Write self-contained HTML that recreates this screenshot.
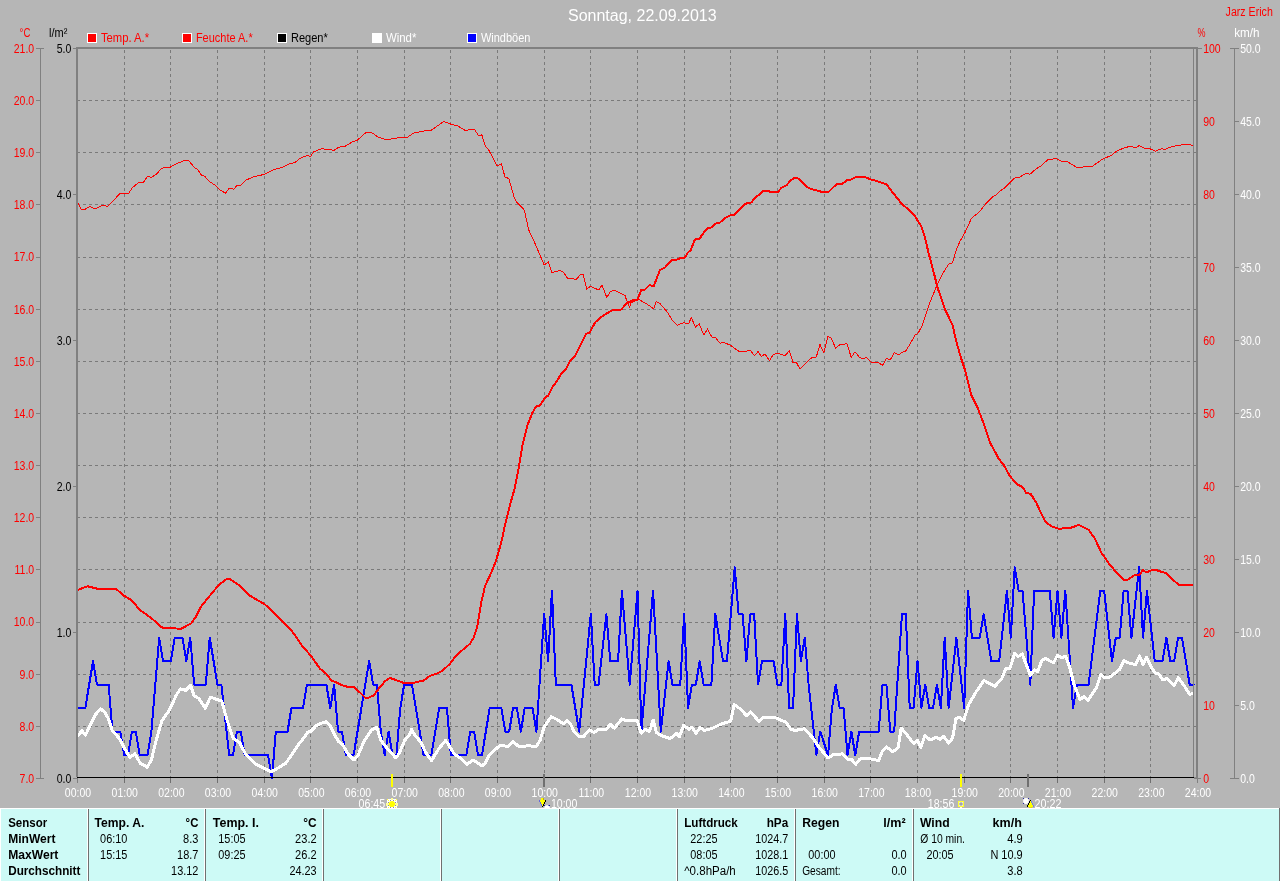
<!DOCTYPE html>
<html><head><meta charset="utf-8"><title>Sonntag, 22.09.2013</title>
<style>html,body{margin:0;padding:0;background:#b6b6b6;}svg{display:block;will-change:transform;}</style></head>
<body>
<svg width="1280" height="881" viewBox="0 0 1280 881">
<rect width="1280" height="881" fill="#b6b6b6"/>
<g stroke="#7a7a7a" stroke-width="1" stroke-dasharray="3 3" shape-rendering="crispEdges" fill="none">
<line x1="124.5" y1="50" x2="124.5" y2="777"/>
<line x1="170.5" y1="50" x2="170.5" y2="777"/>
<line x1="217.5" y1="50" x2="217.5" y2="777"/>
<line x1="264.5" y1="50" x2="264.5" y2="777"/>
<line x1="310.5" y1="50" x2="310.5" y2="777"/>
<line x1="357.5" y1="50" x2="357.5" y2="777"/>
<line x1="404.5" y1="50" x2="404.5" y2="777"/>
<line x1="450.5" y1="50" x2="450.5" y2="777"/>
<line x1="497.5" y1="50" x2="497.5" y2="777"/>
<line x1="544.5" y1="50" x2="544.5" y2="777"/>
<line x1="590.5" y1="50" x2="590.5" y2="777"/>
<line x1="637.5" y1="50" x2="637.5" y2="777"/>
<line x1="684.5" y1="50" x2="684.5" y2="777"/>
<line x1="730.5" y1="50" x2="730.5" y2="777"/>
<line x1="777.5" y1="50" x2="777.5" y2="777"/>
<line x1="824.5" y1="50" x2="824.5" y2="777"/>
<line x1="870.5" y1="50" x2="870.5" y2="777"/>
<line x1="917.5" y1="50" x2="917.5" y2="777"/>
<line x1="964.5" y1="50" x2="964.5" y2="777"/>
<line x1="1010.5" y1="50" x2="1010.5" y2="777"/>
<line x1="1057.5" y1="50" x2="1057.5" y2="777"/>
<line x1="1104.5" y1="50" x2="1104.5" y2="777"/>
<line x1="1150.5" y1="50" x2="1150.5" y2="777"/>
<line x1="77" y1="100.5" x2="1196" y2="100.5"/>
<line x1="77" y1="152.5" x2="1196" y2="152.5"/>
<line x1="77" y1="204.5" x2="1196" y2="204.5"/>
<line x1="77" y1="257.5" x2="1196" y2="257.5"/>
<line x1="77" y1="309.5" x2="1196" y2="309.5"/>
<line x1="77" y1="361.5" x2="1196" y2="361.5"/>
<line x1="77" y1="413.5" x2="1196" y2="413.5"/>
<line x1="77" y1="465.5" x2="1196" y2="465.5"/>
<line x1="77" y1="517.5" x2="1196" y2="517.5"/>
<line x1="77" y1="569.5" x2="1196" y2="569.5"/>
<line x1="77" y1="622.5" x2="1196" y2="622.5"/>
<line x1="77" y1="674.5" x2="1196" y2="674.5"/>
<line x1="77" y1="726.5" x2="1196" y2="726.5"/>
</g>
<g stroke="#707070" stroke-width="1" shape-rendering="crispEdges">
<line x1="124.5" y1="778" x2="124.5" y2="783"/>
<line x1="170.5" y1="778" x2="170.5" y2="783"/>
<line x1="217.5" y1="778" x2="217.5" y2="783"/>
<line x1="264.5" y1="778" x2="264.5" y2="783"/>
<line x1="310.5" y1="778" x2="310.5" y2="783"/>
<line x1="357.5" y1="778" x2="357.5" y2="783"/>
<line x1="404.5" y1="778" x2="404.5" y2="783"/>
<line x1="450.5" y1="778" x2="450.5" y2="783"/>
<line x1="497.5" y1="778" x2="497.5" y2="783"/>
<line x1="544.5" y1="778" x2="544.5" y2="783"/>
<line x1="590.5" y1="778" x2="590.5" y2="783"/>
<line x1="637.5" y1="778" x2="637.5" y2="783"/>
<line x1="684.5" y1="778" x2="684.5" y2="783"/>
<line x1="730.5" y1="778" x2="730.5" y2="783"/>
<line x1="777.5" y1="778" x2="777.5" y2="783"/>
<line x1="824.5" y1="778" x2="824.5" y2="783"/>
<line x1="870.5" y1="778" x2="870.5" y2="783"/>
<line x1="917.5" y1="778" x2="917.5" y2="783"/>
<line x1="964.5" y1="778" x2="964.5" y2="783"/>
<line x1="1010.5" y1="778" x2="1010.5" y2="783"/>
<line x1="1057.5" y1="778" x2="1057.5" y2="783"/>
<line x1="1104.5" y1="778" x2="1104.5" y2="783"/>
<line x1="1150.5" y1="778" x2="1150.5" y2="783"/>
</g>
<g fill="none" stroke-linejoin="round" stroke-linecap="butt" shape-rendering="crispEdges">
<path d="M77.50,708.13 L81.39,708.13 L85.28,708.13 L89.17,684.64 L93.06,661.15 L96.94,684.64 L100.83,684.64 L104.72,684.64 L108.61,684.64 L112.50,731.62 L116.39,731.62 L120.28,731.62 L124.17,755.11 L128.06,755.11 L131.94,731.62 L135.83,731.62 L139.72,755.11 L143.61,755.11 L147.50,755.11 L151.39,731.62 L155.28,684.64 L159.17,637.66 L163.06,661.15 L166.94,661.15 L170.83,661.15 L174.72,637.66 L178.61,637.66 L182.50,637.66 L186.39,661.15 L190.28,637.66 L194.17,684.64 L198.06,684.64 L201.94,684.64 L205.83,684.64 L209.72,637.66 L213.61,661.15 L217.50,684.64 L221.39,684.64 L225.28,719.88 L229.17,755.11 L233.06,755.11 L236.94,731.62 L240.83,731.62 L244.72,755.11 L248.61,755.11 L252.50,755.11 L256.39,755.11 L260.28,755.11 L264.17,755.11 L268.06,755.11 L271.94,778.60 L275.83,731.62 L279.72,731.62 L283.61,731.62 L287.50,731.62 L291.39,708.13 L295.28,708.13 L299.17,708.13 L303.06,708.13 L306.94,684.64 L310.83,684.64 L314.72,684.64 L318.61,684.64 L322.50,684.64 L326.39,684.64 L330.28,708.13 L334.17,684.64 L338.06,731.62 L341.94,731.62 L345.83,755.11 L349.72,755.11 L353.61,755.11 L357.50,731.62 L361.39,708.13 L365.28,684.64 L369.17,661.15 L373.06,684.64 L376.94,684.64 L380.83,731.62 L384.72,755.11 L388.61,731.62 L392.50,755.11 L396.39,755.11 L400.28,708.13 L404.17,684.64 L408.06,684.64 L411.94,684.64 L415.83,708.13 L419.72,731.62 L423.61,755.11 L427.50,755.11 L431.39,755.11 L435.28,731.62 L439.17,708.13 L443.06,708.13 L446.94,708.13 L450.83,755.11 L454.72,755.11 L458.61,755.11 L462.50,755.11 L466.39,755.11 L470.28,731.62 L474.17,731.62 L478.06,755.11 L481.94,755.11 L485.83,731.62 L489.72,708.13 L493.61,708.13 L497.50,708.13 L501.39,708.13 L505.28,731.62 L509.17,731.62 L513.06,708.13 L516.94,708.13 L520.83,731.62 L524.72,708.13 L528.61,708.13 L532.50,708.13 L536.39,731.62 L540.28,672.89 L544.17,614.17 L548.06,661.15 L551.94,590.68 L555.83,684.64 L559.72,684.64 L563.61,684.64 L567.50,684.64 L571.39,684.64 L575.28,708.13 L579.17,731.62 L583.06,692.39 L586.94,653.40 L590.83,614.17 L594.72,684.64 L598.61,684.64 L602.50,649.40 L606.39,614.17 L610.28,661.15 L614.17,661.15 L618.06,661.15 L621.94,590.68 L625.83,637.66 L629.72,684.64 L633.61,637.66 L637.50,590.68 L641.39,731.62 L645.28,684.64 L649.17,637.66 L653.06,590.68 L656.94,661.15 L660.83,731.62 L664.72,696.38 L668.61,661.15 L672.50,684.64 L676.39,684.64 L680.28,684.64 L684.17,614.17 L688.06,708.13 L691.94,684.64 L695.83,684.64 L699.72,661.15 L703.61,684.64 L707.50,684.64 L711.39,684.64 L715.28,614.17 L719.17,637.66 L723.06,661.15 L726.94,661.15 L730.83,614.17 L734.72,567.19 L738.61,614.17 L742.50,614.17 L746.39,661.15 L750.28,614.17 L754.17,614.17 L758.06,684.64 L761.94,661.15 L765.83,661.15 L769.72,661.15 L773.61,661.15 L777.50,684.64 L781.39,684.64 L785.28,614.17 L789.17,708.13 L793.06,708.13 L796.94,614.17 L800.83,661.15 L804.72,637.66 L808.61,684.64 L812.50,719.88 L816.39,755.11 L820.28,731.62 L824.17,743.37 L828.06,755.11 L831.94,708.13 L835.83,684.64 L839.72,708.13 L843.61,708.13 L847.50,755.11 L851.39,731.62 L855.28,755.11 L859.17,731.62 L863.06,731.62 L866.94,731.62 L870.83,731.62 L874.72,731.62 L878.61,731.62 L882.50,684.64 L886.39,684.64 L890.28,731.62 L894.17,731.62 L898.06,672.89 L901.94,614.17 L905.83,614.17 L909.72,708.13 L913.61,708.13 L917.50,661.15 L921.39,708.13 L925.28,684.64 L929.17,708.13 L933.06,708.13 L936.94,684.64 L940.83,708.13 L944.72,637.66 L948.61,708.13 L952.50,672.89 L956.39,637.66 L960.28,672.89 L964.17,708.13 L968.06,590.68 L971.94,637.66 L975.83,637.66 L979.72,637.66 L983.61,614.17 L987.50,637.66 L991.39,661.15 L995.28,661.15 L999.17,661.15 L1003.06,625.91 L1006.94,590.68 L1010.83,637.66 L1014.72,567.19 L1018.61,590.68 L1022.50,590.68 L1026.39,637.66 L1030.28,684.64 L1034.17,590.68 L1038.06,590.68 L1041.94,590.68 L1045.83,590.68 L1049.72,590.68 L1053.61,637.66 L1057.50,590.68 L1061.39,637.66 L1065.28,590.68 L1069.17,649.40 L1073.06,708.13 L1076.94,684.64 L1080.83,684.64 L1084.72,684.64 L1088.61,684.64 L1092.50,653.40 L1096.39,621.92 L1100.28,590.68 L1104.17,590.68 L1108.06,625.91 L1111.94,661.15 L1115.83,637.66 L1119.72,637.66 L1123.61,590.68 L1127.50,590.68 L1131.39,637.66 L1135.28,602.43 L1139.17,567.19 L1143.06,637.66 L1146.94,590.68 L1150.83,625.91 L1154.72,661.15 L1158.61,661.15 L1162.50,661.15 L1166.39,637.66 L1170.28,661.15 L1174.17,661.15 L1178.06,637.66 L1181.94,637.66 L1185.83,661.15 L1189.72,684.64 L1193.61,684.64 L1193.50,684.64" stroke="#0000ff" stroke-width="2"/>
<path d="M77.40,736.30 L82.00,730.70 L85.50,735.30 L90.65,723.90 L95.80,714.20 L100.60,708.80 L105.10,712.60 L108.60,719.20 L112.30,730.70 L119.60,738.80 L124.10,747.70 L129.90,757.40 L135.00,753.90 L140.20,763.20 L147.40,767.30 L151.60,759.00 L156.70,738.40 L161.90,720.80 L169.10,710.50 L176.40,695.00 L180.50,688.80 L185.70,690.30 L190.80,685.30 L193.90,695.60 L199.10,698.70 L205.30,708.40 L210.40,697.10 L221.80,701.20 L227.00,719.80 L233.20,738.40 L239.40,742.50 L245.50,753.90 L255.90,764.20 L266.20,769.40 L271.40,771.80 L278.60,767.70 L285.80,763.20 L293.00,752.80 L299.20,743.50 L304.40,737.30 L307.50,732.20 L310.60,731.60 L315.80,726.00 L320.90,723.30 L326.20,721.80 L330.30,726.00 L335.50,736.30 L338.60,741.50 L342.70,744.60 L347.90,753.90 L354.10,760.00 L358.20,754.90 L364.40,740.40 L371.60,730.10 L376.80,727.40 L380.90,740.40 L388.20,749.70 L396.00,758.00 L399.50,752.80 L404.70,740.40 L409.80,734.20 L411.50,729.50 L415.00,735.30 L421.20,742.50 L425.30,751.80 L431.50,760.70 L438.80,748.70 L445.60,740.40 L449.10,745.60 L454.20,753.90 L460.40,758.00 L467.00,764.20 L473.20,760.00 L482.10,765.80 L485.20,763.20 L489.40,754.90 L499.70,745.60 L507.90,746.20 L513.10,741.50 L519.30,747.00 L528.60,745.60 L535.80,747.00 L540.00,740.40 L544.10,727.00 L551.30,716.70 L557.50,719.80 L563.70,723.90 L566.80,720.80 L570.50,724.00 L574.10,731.40 L579.30,736.60 L583.40,736.60 L589.60,729.80 L593.80,732.50 L597.90,729.80 L606.10,729.80 L610.30,724.20 L614.40,728.30 L621.60,719.00 L626.80,720.70 L637.10,720.10 L641.20,733.10 L645.40,729.40 L649.50,731.40 L653.20,720.10 L656.30,732.40 L660.90,735.50 L670.20,738.60 L676.40,733.50 L679.50,736.60 L683.60,725.20 L688.80,729.40 L691.90,727.30 L696.00,733.10 L700.10,727.70 L704.20,730.40 L712.50,728.30 L720.80,724.20 L730.70,721.10 L734.20,704.60 L741.40,709.70 L746.60,715.90 L750.70,711.80 L759.00,721.50 L763.10,717.00 L774.50,717.40 L785.80,722.10 L791.00,729.40 L795.10,730.40 L804.40,728.80 L812.40,737.50 L818.60,746.60 L827.90,758.00 L833.00,754.90 L842.30,753.90 L848.50,760.00 L851.60,759.60 L855.80,764.20 L859.90,759.00 L866.10,758.00 L878.50,760.50 L882.60,750.80 L886.70,747.00 L892.90,751.80 L898.10,747.70 L901.20,728.00 L906.40,734.20 L913.60,743.50 L917.70,740.40 L920.80,747.70 L924.90,735.30 L930.10,740.00 L936.30,737.30 L940.40,739.40 L943.50,736.30 L948.70,743.10 L952.60,738.00 L956.00,718.50 L959.20,717.40 L963.80,720.20 L968.50,705.00 L976.00,692.00 L984.00,680.50 L994.80,686.40 L1002.00,678.20 L1006.00,668.00 L1009.80,669.00 L1014.60,653.40 L1018.00,656.70 L1022.20,653.90 L1030.40,675.30 L1034.50,670.00 L1037.70,671.50 L1041.80,660.60 L1045.00,658.30 L1053.60,662.90 L1057.40,655.20 L1061.50,657.80 L1065.70,656.20 L1069.80,667.60 L1073.90,684.10 L1080.10,699.60 L1083.80,696.50 L1088.00,700.20 L1096.60,687.20 L1100.80,674.80 L1104.90,677.90 L1110.10,676.90 L1119.40,669.60 L1123.90,660.70 L1129.70,663.40 L1135.50,664.50 L1139.60,655.80 L1143.10,664.50 L1146.60,657.20 L1151.40,667.60 L1155.50,673.10 L1158.60,673.80 L1162.70,680.00 L1166.90,678.50 L1174.10,685.50 L1178.20,677.90 L1184.40,686.10 L1189.60,694.40 L1193.70,693.40" stroke="#ffffff" stroke-width="3"/>
<path d="M77.00,201.25 L81.25,209.25 L85.00,209.25 L89.50,206.50 L93.75,208.25 L96.25,208.25 L102.50,205.50 L108.00,206.25 L120.00,193.50 L128.75,193.25 L132.50,187.50 L138.75,182.50 L143.75,182.00 L147.50,176.25 L151.25,177.25 L156.25,174.50 L161.25,168.75 L164.50,167.25 L170.00,167.25 L175.00,164.25 L185.00,160.25 L188.75,160.75 L195.00,168.00 L198.00,169.75 L201.25,175.00 L205.00,176.50 L209.25,181.50 L215.00,185.00 L220.00,190.00 L225.50,193.25 L229.25,188.25 L233.75,189.25 L236.75,185.50 L240.50,185.50 L246.25,180.00 L253.75,176.75 L263.75,174.50 L273.75,169.50 L282.50,167.50 L288.75,164.00 L295.00,162.50 L300.00,158.25 L307.50,155.50 L310.50,156.50 L313.75,151.75 L322.50,148.25 L326.25,150.00 L330.00,149.25 L333.75,150.50 L338.75,147.25 L345.00,146.25 L352.50,141.75 L357.50,140.00 L366.25,132.25 L371.25,132.25 L377.50,136.75 L383.75,139.00 L387.50,140.00 L393.75,138.25 L407.50,137.25 L413.75,133.00 L425.00,130.75 L431.25,130.25 L443.75,121.50 L451.25,124.25 L457.50,125.75 L465.00,130.25 L474.50,129.50 L478.75,135.75 L481.75,134.75 L485.50,146.25 L488.75,150.00 L497.00,166.00 L501.25,163.75 L505.00,177.00 L508.75,178.50 L514.25,197.50 L517.00,202.50 L524.25,210.00 L528.75,230.00 L533.75,240.50 L544.25,265.00 L548.25,261.75 L551.75,272.50 L560.00,270.50 L563.75,272.50 L568.00,279.00 L572.00,278.25 L575.75,280.00 L580.00,275.00 L583.25,274.50 L586.75,289.25 L590.50,286.25 L598.75,290.00 L602.00,285.00 L606.75,297.50 L610.50,291.25 L615.00,290.50 L625.00,295.50 L628.25,305.00 L629.50,307.00 L631.25,302.50 L638.75,299.50 L647.50,304.50 L653.75,308.75 L656.25,301.50 L660.00,303.50 L667.50,312.25 L672.50,320.50 L677.00,325.25 L683.75,322.75 L688.50,324.00 L691.25,317.50 L695.50,327.00 L699.25,323.75 L703.75,335.00 L707.50,329.00 L711.75,337.00 L715.50,337.50 L720.00,343.25 L723.75,342.50 L730.00,345.00 L738.75,351.25 L745.00,351.75 L750.00,350.00 L754.50,355.75 L758.00,351.50 L761.25,356.25 L765.00,354.25 L769.50,360.50 L773.25,354.50 L777.50,353.25 L785.00,355.75 L789.25,350.75 L793.00,362.50 L796.25,362.00 L800.00,369.25 L806.25,362.50 L812.00,357.50 L816.25,357.00 L820.00,344.50 L823.75,352.50 L828.00,336.50 L831.25,338.25 L835.50,348.00 L840.00,344.50 L847.00,343.75 L851.25,357.50 L855.00,351.75 L859.50,357.50 L862.50,358.75 L866.25,357.50 L871.25,362.50 L875.00,363.00 L878.00,362.00 L882.50,365.50 L886.25,358.75 L890.50,359.50 L894.50,352.50 L898.75,355.00 L901.25,352.50 L905.50,351.25 L910.00,344.25 L915.00,335.00 L918.00,333.25 L922.50,325.00 L928.75,305.50 L937.50,283.75 L942.50,273.75 L948.75,264.00 L952.50,262.75 L956.25,250.00 L960.00,241.25 L965.00,232.50 L971.25,218.75 L973.75,216.25 L978.75,212.50 L986.25,203.25 L992.50,197.00 L996.25,195.00 L1000.00,190.75 L1003.75,188.75 L1013.75,178.75 L1016.25,177.50 L1020.00,177.00 L1026.25,173.25 L1030.00,174.25 L1036.25,168.75 L1041.25,165.75 L1047.50,160.00 L1051.25,159.25 L1056.25,158.50 L1061.25,161.25 L1067.50,161.75 L1076.25,167.00 L1080.00,168.00 L1085.00,166.25 L1092.50,166.25 L1101.25,160.00 L1106.25,157.50 L1111.25,155.50 L1116.25,151.25 L1125.00,147.50 L1131.25,146.25 L1135.75,148.00 L1139.25,145.50 L1143.75,148.00 L1150.00,148.75 L1155.50,151.25 L1161.25,148.75 L1165.00,149.25 L1171.25,146.75 L1177.50,145.50 L1186.25,144.25 L1190.00,144.50 L1193.00,145.75" stroke="#ff0000" stroke-width="1"/>
<path d="M77.50,590.00 L87.50,586.25 L97.50,588.75 L116.25,589.00 L123.75,595.50 L131.25,600.00 L140.00,610.00 L151.25,618.00 L161.25,627.00 L165.00,628.50 L171.25,628.25 L181.25,628.75 L191.25,623.25 L196.25,616.25 L201.25,606.25 L210.00,595.50 L218.75,585.00 L226.25,579.25 L230.00,579.25 L240.00,585.75 L250.00,595.75 L265.00,604.50 L280.00,618.75 L291.25,630.00 L302.50,646.25 L311.25,656.25 L320.00,668.75 L326.25,673.75 L331.25,680.50 L335.00,681.75 L341.25,685.00 L347.50,686.75 L353.75,687.00 L360.00,692.50 L365.00,697.50 L368.75,697.50 L373.75,695.50 L378.75,688.75 L385.00,681.25 L390.00,678.00 L393.75,679.25 L403.75,683.00 L412.50,683.00 L423.75,680.50 L430.00,675.75 L436.25,673.75 L442.50,670.75 L450.00,663.75 L455.00,657.00 L462.50,650.00 L470.00,643.75 L473.75,637.50 L477.00,627.50 L479.25,615.00 L481.25,602.50 L485.00,586.25 L491.25,572.50 L496.25,560.00 L501.25,542.50 L505.00,525.00 L510.00,505.00 L514.25,490.00 L518.75,467.50 L522.50,445.00 L527.50,425.00 L532.50,412.50 L536.25,406.25 L540.00,405.50 L545.00,397.50 L548.00,395.75 L552.50,387.00 L556.25,382.00 L561.25,373.75 L566.25,368.75 L570.00,361.25 L575.00,356.25 L578.75,348.75 L586.25,333.75 L589.50,333.00 L595.00,322.50 L600.00,318.00 L606.25,313.75 L613.75,309.50 L621.25,309.50 L626.25,303.75 L632.50,300.50 L637.50,299.50 L641.25,290.00 L645.00,289.50 L649.50,285.00 L653.75,286.25 L657.50,276.25 L660.00,270.00 L665.00,267.50 L672.00,260.00 L676.25,260.00 L680.00,258.25 L685.00,257.50 L687.50,253.00 L690.75,250.00 L695.00,239.50 L699.50,238.75 L703.75,232.50 L707.50,228.00 L711.25,227.50 L716.25,223.25 L720.00,222.50 L725.00,218.00 L730.00,215.50 L733.75,215.00 L743.75,205.00 L747.50,203.00 L751.25,202.50 L755.00,198.00 L763.75,190.75 L767.50,191.25 L777.50,192.50 L781.25,188.00 L786.25,185.50 L790.00,181.25 L793.75,178.00 L797.50,178.00 L802.50,182.50 L808.75,188.25 L815.00,190.00 L821.25,191.75 L828.75,191.75 L833.75,186.75 L837.50,183.75 L842.50,183.75 L847.50,180.00 L851.25,179.50 L856.25,177.00 L865.00,177.00 L870.00,179.25 L877.50,181.25 L886.25,184.25 L893.75,193.75 L901.25,203.25 L907.50,208.75 L915.00,216.25 L921.25,226.25 L925.00,237.50 L928.75,253.75 L933.75,272.50 L937.50,287.50 L945.00,309.25 L952.50,325.00 L956.25,341.25 L961.25,358.75 L965.00,370.00 L971.25,395.00 L977.50,407.50 L983.75,423.75 L990.00,442.50 L998.75,458.75 L1003.75,465.00 L1010.00,476.25 L1017.50,484.50 L1022.50,487.00 L1026.25,493.00 L1030.50,493.75 L1036.25,502.50 L1041.25,513.75 L1045.00,521.25 L1051.25,526.25 L1058.75,528.75 L1070.00,528.00 L1078.75,525.00 L1088.75,530.00 L1095.00,538.75 L1101.25,552.50 L1110.00,565.00 L1118.75,575.00 L1123.75,580.00 L1127.50,580.00 L1133.75,575.50 L1140.00,574.50 L1143.00,569.75 L1146.00,572.50 L1152.00,570.00 L1157.50,570.50 L1166.00,573.25 L1178.50,584.75 L1193.75,584.75" stroke="#ff0000" stroke-width="2"/>
</g>
<g shape-rendering="crispEdges">
<rect x="76" y="47" width="1122" height="2" fill="#808080"/>
<rect x="76" y="47" width="2" height="730" fill="#808080"/>
<rect x="1193" y="47" width="1" height="730" fill="#808080"/>
<rect x="1196" y="47" width="2" height="732" fill="#808080"/>
<rect x="1197" y="779" width="1" height="4" fill="#808080"/>
<rect x="1194" y="777" width="2" height="1" fill="#8c8c8c"/>
<rect x="77" y="777" width="1117" height="1" fill="#000"/>
<rect x="77" y="778" width="1" height="5" fill="#808080"/>
<rect x="40" y="48" width="1" height="731" fill="#808080"/>
<rect x="36" y="48" width="8" height="1" fill="#808080"/>
<rect x="36" y="100" width="4" height="1" fill="#808080"/>
<rect x="36" y="152" width="4" height="1" fill="#808080"/>
<rect x="36" y="204" width="4" height="1" fill="#808080"/>
<rect x="36" y="257" width="4" height="1" fill="#808080"/>
<rect x="36" y="309" width="4" height="1" fill="#808080"/>
<rect x="36" y="361" width="4" height="1" fill="#808080"/>
<rect x="36" y="413" width="4" height="1" fill="#808080"/>
<rect x="36" y="465" width="4" height="1" fill="#808080"/>
<rect x="36" y="517" width="4" height="1" fill="#808080"/>
<rect x="36" y="569" width="4" height="1" fill="#808080"/>
<rect x="36" y="622" width="4" height="1" fill="#808080"/>
<rect x="36" y="674" width="4" height="1" fill="#808080"/>
<rect x="36" y="726" width="4" height="1" fill="#808080"/>
<rect x="36" y="778" width="8" height="1" fill="#808080"/>
<rect x="73" y="48" width="4" height="1" fill="#808080"/>
<rect x="73" y="194" width="4" height="1" fill="#808080"/>
<rect x="73" y="340" width="4" height="1" fill="#808080"/>
<rect x="73" y="486" width="4" height="1" fill="#808080"/>
<rect x="73" y="632" width="4" height="1" fill="#808080"/>
<rect x="73" y="778" width="4" height="1" fill="#808080"/>
<rect x="1198" y="48" width="4" height="1" fill="#808080"/>
<rect x="1194" y="778" width="7" height="1" fill="#808080"/>
<rect x="1234" y="48" width="1" height="731" fill="#808080"/>
<rect x="1230" y="48" width="9" height="1" fill="#808080"/>
<rect x="1234" y="121" width="5" height="1" fill="#808080"/>
<rect x="1234" y="194" width="5" height="1" fill="#808080"/>
<rect x="1234" y="267" width="5" height="1" fill="#808080"/>
<rect x="1234" y="340" width="5" height="1" fill="#808080"/>
<rect x="1234" y="413" width="5" height="1" fill="#808080"/>
<rect x="1234" y="486" width="5" height="1" fill="#808080"/>
<rect x="1234" y="559" width="5" height="1" fill="#808080"/>
<rect x="1234" y="632" width="5" height="1" fill="#808080"/>
<rect x="1234" y="705" width="5" height="1" fill="#808080"/>
<rect x="1230" y="778" width="9" height="1" fill="#808080"/>
</g>
<text x="568.00" y="20.6" font-family="Liberation Sans, sans-serif" font-size="16" font-weight="normal" fill="#fff" textLength="148.60" lengthAdjust="spacingAndGlyphs">Sonntag, 22.09.2013</text>
<text x="1225.60" y="16" font-family="Liberation Sans, sans-serif" font-size="12" font-weight="normal" fill="#ff0000" textLength="47.20" lengthAdjust="spacingAndGlyphs">Jarz Erich</text>
<text x="19.60" y="37" font-family="Liberation Sans, sans-serif" font-size="12" font-weight="normal" fill="#ff0000" textLength="10.80" lengthAdjust="spacingAndGlyphs">°C</text>
<text x="49.00" y="37" font-family="Liberation Sans, sans-serif" font-size="12" font-weight="normal" fill="#000" textLength="18.30" lengthAdjust="spacingAndGlyphs">l/m²</text>
<text x="1197.60" y="37" font-family="Liberation Sans, sans-serif" font-size="12" font-weight="normal" fill="#ff0000" textLength="8.00" lengthAdjust="spacingAndGlyphs">%</text>
<text x="1234.20" y="37" font-family="Liberation Sans, sans-serif" font-size="12" font-weight="normal" fill="#fff" textLength="25.40" lengthAdjust="spacingAndGlyphs">km/h</text>
<text transform="translate(34.2,52.8) scale(0.875,1)" font-family="Liberation Sans, sans-serif" font-size="12" font-weight="normal" fill="#ff0000" text-anchor="end" >21.0</text>
<text transform="translate(34.2,104.943) scale(0.875,1)" font-family="Liberation Sans, sans-serif" font-size="12" font-weight="normal" fill="#ff0000" text-anchor="end" >20.0</text>
<text transform="translate(34.2,157.086) scale(0.875,1)" font-family="Liberation Sans, sans-serif" font-size="12" font-weight="normal" fill="#ff0000" text-anchor="end" >19.0</text>
<text transform="translate(34.2,209.229) scale(0.875,1)" font-family="Liberation Sans, sans-serif" font-size="12" font-weight="normal" fill="#ff0000" text-anchor="end" >18.0</text>
<text transform="translate(34.2,261.372) scale(0.875,1)" font-family="Liberation Sans, sans-serif" font-size="12" font-weight="normal" fill="#ff0000" text-anchor="end" >17.0</text>
<text transform="translate(34.2,313.51500000000004) scale(0.875,1)" font-family="Liberation Sans, sans-serif" font-size="12" font-weight="normal" fill="#ff0000" text-anchor="end" >16.0</text>
<text transform="translate(34.2,365.658) scale(0.875,1)" font-family="Liberation Sans, sans-serif" font-size="12" font-weight="normal" fill="#ff0000" text-anchor="end" >15.0</text>
<text transform="translate(34.2,417.801) scale(0.875,1)" font-family="Liberation Sans, sans-serif" font-size="12" font-weight="normal" fill="#ff0000" text-anchor="end" >14.0</text>
<text transform="translate(34.2,469.944) scale(0.875,1)" font-family="Liberation Sans, sans-serif" font-size="12" font-weight="normal" fill="#ff0000" text-anchor="end" >13.0</text>
<text transform="translate(34.2,522.087) scale(0.875,1)" font-family="Liberation Sans, sans-serif" font-size="12" font-weight="normal" fill="#ff0000" text-anchor="end" >12.0</text>
<text transform="translate(34.2,574.23) scale(0.875,1)" font-family="Liberation Sans, sans-serif" font-size="12" font-weight="normal" fill="#ff0000" text-anchor="end" >11.0</text>
<text transform="translate(34.2,626.3729999999999) scale(0.875,1)" font-family="Liberation Sans, sans-serif" font-size="12" font-weight="normal" fill="#ff0000" text-anchor="end" >10.0</text>
<text transform="translate(34.2,678.516) scale(0.875,1)" font-family="Liberation Sans, sans-serif" font-size="12" font-weight="normal" fill="#ff0000" text-anchor="end" >9.0</text>
<text transform="translate(34.2,730.659) scale(0.875,1)" font-family="Liberation Sans, sans-serif" font-size="12" font-weight="normal" fill="#ff0000" text-anchor="end" >8.0</text>
<text transform="translate(34.2,782.8019999999999) scale(0.875,1)" font-family="Liberation Sans, sans-serif" font-size="12" font-weight="normal" fill="#ff0000" text-anchor="end" >7.0</text>
<text transform="translate(71.3,52.8) scale(0.875,1)" font-family="Liberation Sans, sans-serif" font-size="12" font-weight="normal" fill="#000" text-anchor="end" >5.0</text>
<text transform="translate(71.3,198.8) scale(0.875,1)" font-family="Liberation Sans, sans-serif" font-size="12" font-weight="normal" fill="#000" text-anchor="end" >4.0</text>
<text transform="translate(71.3,344.8) scale(0.875,1)" font-family="Liberation Sans, sans-serif" font-size="12" font-weight="normal" fill="#000" text-anchor="end" >3.0</text>
<text transform="translate(71.3,490.8) scale(0.875,1)" font-family="Liberation Sans, sans-serif" font-size="12" font-weight="normal" fill="#000" text-anchor="end" >2.0</text>
<text transform="translate(71.3,636.8) scale(0.875,1)" font-family="Liberation Sans, sans-serif" font-size="12" font-weight="normal" fill="#000" text-anchor="end" >1.0</text>
<text transform="translate(71.3,782.8) scale(0.875,1)" font-family="Liberation Sans, sans-serif" font-size="12" font-weight="normal" fill="#000" text-anchor="end" >0.0</text>
<text transform="translate(1203.2,52.8) scale(0.875,1)" font-family="Liberation Sans, sans-serif" font-size="12" font-weight="normal" fill="#ff0000" text-anchor="start" >100</text>
<text transform="translate(1240.2,52.8) scale(0.875,1)" font-family="Liberation Sans, sans-serif" font-size="12" font-weight="normal" fill="#fff" text-anchor="start" >50.0</text>
<text transform="translate(1203.2,125.8) scale(0.875,1)" font-family="Liberation Sans, sans-serif" font-size="12" font-weight="normal" fill="#ff0000" text-anchor="start" >90</text>
<text transform="translate(1240.2,125.8) scale(0.875,1)" font-family="Liberation Sans, sans-serif" font-size="12" font-weight="normal" fill="#fff" text-anchor="start" >45.0</text>
<text transform="translate(1203.2,198.8) scale(0.875,1)" font-family="Liberation Sans, sans-serif" font-size="12" font-weight="normal" fill="#ff0000" text-anchor="start" >80</text>
<text transform="translate(1240.2,198.8) scale(0.875,1)" font-family="Liberation Sans, sans-serif" font-size="12" font-weight="normal" fill="#fff" text-anchor="start" >40.0</text>
<text transform="translate(1203.2,271.8) scale(0.875,1)" font-family="Liberation Sans, sans-serif" font-size="12" font-weight="normal" fill="#ff0000" text-anchor="start" >70</text>
<text transform="translate(1240.2,271.8) scale(0.875,1)" font-family="Liberation Sans, sans-serif" font-size="12" font-weight="normal" fill="#fff" text-anchor="start" >35.0</text>
<text transform="translate(1203.2,344.8) scale(0.875,1)" font-family="Liberation Sans, sans-serif" font-size="12" font-weight="normal" fill="#ff0000" text-anchor="start" >60</text>
<text transform="translate(1240.2,344.8) scale(0.875,1)" font-family="Liberation Sans, sans-serif" font-size="12" font-weight="normal" fill="#fff" text-anchor="start" >30.0</text>
<text transform="translate(1203.2,417.8) scale(0.875,1)" font-family="Liberation Sans, sans-serif" font-size="12" font-weight="normal" fill="#ff0000" text-anchor="start" >50</text>
<text transform="translate(1240.2,417.8) scale(0.875,1)" font-family="Liberation Sans, sans-serif" font-size="12" font-weight="normal" fill="#fff" text-anchor="start" >25.0</text>
<text transform="translate(1203.2,490.8) scale(0.875,1)" font-family="Liberation Sans, sans-serif" font-size="12" font-weight="normal" fill="#ff0000" text-anchor="start" >40</text>
<text transform="translate(1240.2,490.8) scale(0.875,1)" font-family="Liberation Sans, sans-serif" font-size="12" font-weight="normal" fill="#fff" text-anchor="start" >20.0</text>
<text transform="translate(1203.2,563.8) scale(0.875,1)" font-family="Liberation Sans, sans-serif" font-size="12" font-weight="normal" fill="#ff0000" text-anchor="start" >30</text>
<text transform="translate(1240.2,563.8) scale(0.875,1)" font-family="Liberation Sans, sans-serif" font-size="12" font-weight="normal" fill="#fff" text-anchor="start" >15.0</text>
<text transform="translate(1203.2,636.8) scale(0.875,1)" font-family="Liberation Sans, sans-serif" font-size="12" font-weight="normal" fill="#ff0000" text-anchor="start" >20</text>
<text transform="translate(1240.2,636.8) scale(0.875,1)" font-family="Liberation Sans, sans-serif" font-size="12" font-weight="normal" fill="#fff" text-anchor="start" >10.0</text>
<text transform="translate(1203.2,709.8) scale(0.875,1)" font-family="Liberation Sans, sans-serif" font-size="12" font-weight="normal" fill="#ff0000" text-anchor="start" >10</text>
<text transform="translate(1240.2,709.8) scale(0.875,1)" font-family="Liberation Sans, sans-serif" font-size="12" font-weight="normal" fill="#fff" text-anchor="start" >5.0</text>
<text transform="translate(1203.2,782.8) scale(0.875,1)" font-family="Liberation Sans, sans-serif" font-size="12" font-weight="normal" fill="#ff0000" text-anchor="start" >0</text>
<text transform="translate(1240.2,782.8) scale(0.875,1)" font-family="Liberation Sans, sans-serif" font-size="12" font-weight="normal" fill="#fff" text-anchor="start" >0.0</text>
<text transform="translate(78.0,797) scale(0.875,1)" font-family="Liberation Sans, sans-serif" font-size="12" font-weight="normal" fill="#fff" text-anchor="middle" >00:00</text>
<text transform="translate(124.66666666666666,797) scale(0.875,1)" font-family="Liberation Sans, sans-serif" font-size="12" font-weight="normal" fill="#fff" text-anchor="middle" >01:00</text>
<text transform="translate(171.33333333333331,797) scale(0.875,1)" font-family="Liberation Sans, sans-serif" font-size="12" font-weight="normal" fill="#fff" text-anchor="middle" >02:00</text>
<text transform="translate(218.0,797) scale(0.875,1)" font-family="Liberation Sans, sans-serif" font-size="12" font-weight="normal" fill="#fff" text-anchor="middle" >03:00</text>
<text transform="translate(264.66666666666663,797) scale(0.875,1)" font-family="Liberation Sans, sans-serif" font-size="12" font-weight="normal" fill="#fff" text-anchor="middle" >04:00</text>
<text transform="translate(311.3333333333333,797) scale(0.875,1)" font-family="Liberation Sans, sans-serif" font-size="12" font-weight="normal" fill="#fff" text-anchor="middle" >05:00</text>
<text transform="translate(358.0,797) scale(0.875,1)" font-family="Liberation Sans, sans-serif" font-size="12" font-weight="normal" fill="#fff" text-anchor="middle" >06:00</text>
<text transform="translate(404.66666666666663,797) scale(0.875,1)" font-family="Liberation Sans, sans-serif" font-size="12" font-weight="normal" fill="#fff" text-anchor="middle" >07:00</text>
<text transform="translate(451.3333333333333,797) scale(0.875,1)" font-family="Liberation Sans, sans-serif" font-size="12" font-weight="normal" fill="#fff" text-anchor="middle" >08:00</text>
<text transform="translate(498.0,797) scale(0.875,1)" font-family="Liberation Sans, sans-serif" font-size="12" font-weight="normal" fill="#fff" text-anchor="middle" >09:00</text>
<text transform="translate(544.6666666666666,797) scale(0.875,1)" font-family="Liberation Sans, sans-serif" font-size="12" font-weight="normal" fill="#fff" text-anchor="middle" >10:00</text>
<text transform="translate(591.3333333333333,797) scale(0.875,1)" font-family="Liberation Sans, sans-serif" font-size="12" font-weight="normal" fill="#fff" text-anchor="middle" >11:00</text>
<text transform="translate(638.0,797) scale(0.875,1)" font-family="Liberation Sans, sans-serif" font-size="12" font-weight="normal" fill="#fff" text-anchor="middle" >12:00</text>
<text transform="translate(684.6666666666666,797) scale(0.875,1)" font-family="Liberation Sans, sans-serif" font-size="12" font-weight="normal" fill="#fff" text-anchor="middle" >13:00</text>
<text transform="translate(731.3333333333333,797) scale(0.875,1)" font-family="Liberation Sans, sans-serif" font-size="12" font-weight="normal" fill="#fff" text-anchor="middle" >14:00</text>
<text transform="translate(778.0,797) scale(0.875,1)" font-family="Liberation Sans, sans-serif" font-size="12" font-weight="normal" fill="#fff" text-anchor="middle" >15:00</text>
<text transform="translate(824.6666666666666,797) scale(0.875,1)" font-family="Liberation Sans, sans-serif" font-size="12" font-weight="normal" fill="#fff" text-anchor="middle" >16:00</text>
<text transform="translate(871.3333333333333,797) scale(0.875,1)" font-family="Liberation Sans, sans-serif" font-size="12" font-weight="normal" fill="#fff" text-anchor="middle" >17:00</text>
<text transform="translate(918.0,797) scale(0.875,1)" font-family="Liberation Sans, sans-serif" font-size="12" font-weight="normal" fill="#fff" text-anchor="middle" >18:00</text>
<text transform="translate(964.6666666666666,797) scale(0.875,1)" font-family="Liberation Sans, sans-serif" font-size="12" font-weight="normal" fill="#fff" text-anchor="middle" >19:00</text>
<text transform="translate(1011.3333333333333,797) scale(0.875,1)" font-family="Liberation Sans, sans-serif" font-size="12" font-weight="normal" fill="#fff" text-anchor="middle" >20:00</text>
<text transform="translate(1058.0,797) scale(0.875,1)" font-family="Liberation Sans, sans-serif" font-size="12" font-weight="normal" fill="#fff" text-anchor="middle" >21:00</text>
<text transform="translate(1104.6666666666665,797) scale(0.875,1)" font-family="Liberation Sans, sans-serif" font-size="12" font-weight="normal" fill="#fff" text-anchor="middle" >22:00</text>
<text transform="translate(1151.3333333333333,797) scale(0.875,1)" font-family="Liberation Sans, sans-serif" font-size="12" font-weight="normal" fill="#fff" text-anchor="middle" >23:00</text>
<text transform="translate(1198.0,797) scale(0.875,1)" font-family="Liberation Sans, sans-serif" font-size="12" font-weight="normal" fill="#fff" text-anchor="middle" >24:00</text>
<rect x="87" y="33" width="10" height="10" fill="#fff" shape-rendering="crispEdges"/>
<rect x="88" y="34" width="8" height="8" fill="#ff0000" shape-rendering="crispEdges"/>
<text x="100.90" y="42" font-family="Liberation Sans, sans-serif" font-size="12" font-weight="normal" fill="#ff0000" textLength="48.20" lengthAdjust="spacingAndGlyphs">Temp. A.*</text>
<rect x="182" y="33" width="10" height="10" fill="#fff" shape-rendering="crispEdges"/>
<rect x="183" y="34" width="8" height="8" fill="#ff0000" shape-rendering="crispEdges"/>
<text x="195.90" y="42" font-family="Liberation Sans, sans-serif" font-size="12" font-weight="normal" fill="#ff0000" textLength="56.80" lengthAdjust="spacingAndGlyphs">Feuchte A.*</text>
<rect x="277" y="33" width="10" height="10" fill="#fff" shape-rendering="crispEdges"/>
<rect x="278" y="34" width="8" height="8" fill="#000" shape-rendering="crispEdges"/>
<text x="290.90" y="42" font-family="Liberation Sans, sans-serif" font-size="12" font-weight="normal" fill="#000" textLength="36.90" lengthAdjust="spacingAndGlyphs">Regen*</text>
<rect x="372" y="33" width="10" height="10" fill="#fff" shape-rendering="crispEdges"/>
<rect x="373" y="34" width="8" height="8" fill="#fff" shape-rendering="crispEdges"/>
<text x="385.90" y="42" font-family="Liberation Sans, sans-serif" font-size="12" font-weight="normal" fill="#fff" textLength="30.50" lengthAdjust="spacingAndGlyphs">Wind*</text>
<rect x="467" y="33" width="10" height="10" fill="#fff" shape-rendering="crispEdges"/>
<rect x="468" y="34" width="8" height="8" fill="#0000ff" shape-rendering="crispEdges"/>
<text x="480.90" y="42" font-family="Liberation Sans, sans-serif" font-size="12" font-weight="normal" fill="#fff" textLength="49.50" lengthAdjust="spacingAndGlyphs">Windböen</text>
<g shape-rendering="crispEdges">
<rect x="391" y="774" width="2" height="13" fill="#ffff00"/>
<rect x="960" y="774" width="2" height="13" fill="#ffff00"/>
<rect x="543" y="774" width="2" height="13" fill="#707070"/>
<rect x="1027" y="774" width="2" height="13" fill="#707070"/>
</g>
<text x="358.60" y="807.8" font-family="Liberation Sans, sans-serif" font-size="12" font-weight="normal" fill="#fff" textLength="26.60" lengthAdjust="spacingAndGlyphs">06:45</text>
<text x="550.90" y="807.8" font-family="Liberation Sans, sans-serif" font-size="12" font-weight="normal" fill="#fff" textLength="26.50" lengthAdjust="spacingAndGlyphs">10:00</text>
<text x="927.80" y="807.8" font-family="Liberation Sans, sans-serif" font-size="12" font-weight="normal" fill="#fff" textLength="26.50" lengthAdjust="spacingAndGlyphs">18:56</text>
<text x="1034.50" y="807.8" font-family="Liberation Sans, sans-serif" font-size="12" font-weight="normal" fill="#fff" textLength="26.90" lengthAdjust="spacingAndGlyphs">20:22</text>
<g shape-rendering="crispEdges">
<rect x="387" y="799" width="10" height="9" fill="#ffffff"/>
<rect x="391" y="798" width="2" height="2" fill="#ffff99"/>
<rect x="386" y="803" width="3" height="3" fill="#ffff99"/>
<rect x="395" y="803" width="3" height="3" fill="#ffff99"/>
<rect x="387" y="799" width="1" height="1" fill="#ffff40"/>
<rect x="396" y="799" width="1" height="1" fill="#ffff40"/>
<rect x="388" y="800" width="1" height="1" fill="#ffff40"/>
<rect x="395" y="800" width="1" height="1" fill="#ffff40"/>
<rect x="388" y="807" width="1" height="1" fill="#ffff40"/>
<rect x="395" y="807" width="1" height="1" fill="#ffff40"/>
<rect x="390" y="800" width="1" height="1" fill="#8888a8"/>
<rect x="393" y="800" width="1" height="1" fill="#8888a8"/>
<rect x="388" y="802" width="1" height="1" fill="#8888a8"/>
<rect x="395" y="802" width="1" height="1" fill="#8888a8"/>
<rect x="388" y="805" width="1" height="1" fill="#8888a8"/>
<rect x="395" y="805" width="1" height="1" fill="#8888a8"/>
<rect x="390" y="807" width="1" height="1" fill="#8888a8"/>
<rect x="393" y="807" width="1" height="1" fill="#8888a8"/>
</g>
<circle cx="392" cy="804" r="3.1" fill="#ffff00"/>
<g shape-rendering="crispEdges">
<rect x="541" y="798" width="3" height="2" fill="#ffff00"/>
<rect x="543" y="798" width="1" height="2" fill="#c0b000"/>
<rect x="540" y="800" width="5" height="2" fill="#ffff00"/>
<rect x="541" y="802" width="3" height="2" fill="#ffff00"/>
<rect x="542" y="804" width="1" height="2" fill="#ffff00"/>
<rect x="542" y="806" width="1" height="1" fill="#000"/>
<rect x="545" y="800" width="1" height="2" fill="#000"/>
<rect x="544" y="802" width="1" height="2" fill="#000"/>
<rect x="543" y="804" width="1" height="2" fill="#000"/>
<rect x="539" y="800" width="1" height="2" fill="#6666dd"/>
<rect x="540" y="802" width="1" height="2" fill="#6666dd"/>
<rect x="541" y="804" width="1" height="2" fill="#6666dd"/>
<rect x="544" y="805" width="1" height="1" fill="#1818a0"/>
<rect x="548" y="805" width="2" height="1" fill="#1818a0"/>
</g>
<path d="M544.3,808 A2.8,2.8 0 0 1 549.9,808 Z" fill="#fff"/>
<g shape-rendering="crispEdges">
<rect x="958" y="801" width="6" height="6" fill="#ffff30"/>
<rect x="959" y="802" width="4" height="4" fill="#f4f4d8"/>
<rect x="960" y="807" width="2" height="1" fill="#fffff0"/>
</g>
<circle cx="961" cy="804" r="1.8" fill="#a0a0b4"/>
<g shape-rendering="crispEdges">
<rect x="1023" y="798" width="1" height="1" fill="#1818a0"/>
<rect x="1028" y="798" width="1" height="1" fill="#1818a0"/>
<rect x="1023" y="803" width="1" height="1" fill="#1818a0"/>
</g>
<circle cx="1026" cy="801" r="2.9" fill="#fff"/>
<g shape-rendering="crispEdges">
<rect x="1030" y="800" width="1" height="1" fill="#000"/>
<rect x="1030" y="801" width="1" height="2" fill="#ffff00"/>
<rect x="1029" y="803" width="3" height="2" fill="#ffff00"/>
<rect x="1028" y="805" width="5" height="2" fill="#ffff00"/>
<rect x="1029" y="807" width="3" height="1" fill="#e8e000"/>
<rect x="1029" y="801" width="1" height="2" fill="#000"/>
<rect x="1028" y="803" width="1" height="2" fill="#000"/>
<rect x="1027" y="805" width="1" height="2" fill="#000"/>
<rect x="1031" y="801" width="1" height="2" fill="#7080e0"/>
<rect x="1032" y="803" width="1" height="2" fill="#7080e0"/>
<rect x="1033" y="805" width="1" height="2" fill="#7080e0"/>
</g>
<g shape-rendering="crispEdges">
<rect x="0" y="808" width="1280" height="73" fill="#fff"/>
<rect x="1" y="809" width="1278" height="72" fill="#cdfaf6"/>
<rect x="1279" y="808" width="1" height="73" fill="#707070"/>
<rect x="87" y="809" width="1" height="72" fill="#ffffff"/>
<rect x="88" y="809" width="1" height="72" fill="#707070"/>
<rect x="204" y="809" width="1" height="72" fill="#ffffff"/>
<rect x="205" y="809" width="1" height="72" fill="#707070"/>
<rect x="322" y="809" width="1" height="72" fill="#ffffff"/>
<rect x="323" y="809" width="1" height="72" fill="#707070"/>
<rect x="440" y="809" width="1" height="72" fill="#ffffff"/>
<rect x="441" y="809" width="1" height="72" fill="#707070"/>
<rect x="558" y="809" width="1" height="72" fill="#ffffff"/>
<rect x="559" y="809" width="1" height="72" fill="#707070"/>
<rect x="676" y="809" width="1" height="72" fill="#ffffff"/>
<rect x="677" y="809" width="1" height="72" fill="#707070"/>
<rect x="794" y="809" width="1" height="72" fill="#ffffff"/>
<rect x="795" y="809" width="1" height="72" fill="#707070"/>
<rect x="912" y="809" width="1" height="72" fill="#ffffff"/>
<rect x="913" y="809" width="1" height="72" fill="#707070"/>
</g>
<text x="8.20" y="827" font-family="Liberation Sans, sans-serif" font-size="12" font-weight="bold" fill="#000" textLength="38.95" lengthAdjust="spacingAndGlyphs">Sensor</text>
<text x="8.20" y="843" font-family="Liberation Sans, sans-serif" font-size="12" font-weight="bold" fill="#000" textLength="47.20" lengthAdjust="spacingAndGlyphs">MinWert</text>
<text x="8.20" y="859" font-family="Liberation Sans, sans-serif" font-size="12" font-weight="bold" fill="#000" textLength="50.20" lengthAdjust="spacingAndGlyphs">MaxWert</text>
<text x="8.20" y="875" font-family="Liberation Sans, sans-serif" font-size="12" font-weight="bold" fill="#000" textLength="72.20" lengthAdjust="spacingAndGlyphs">Durchschnitt</text>
<text x="94.60" y="827" font-family="Liberation Sans, sans-serif" font-size="12" font-weight="bold" fill="#000" textLength="49.80" lengthAdjust="spacingAndGlyphs">Temp. A.</text>
<text x="185.60" y="827" font-family="Liberation Sans, sans-serif" font-size="12" font-weight="bold" fill="#000" textLength="12.80" lengthAdjust="spacingAndGlyphs">°C</text>
<text x="100.10" y="843" font-family="Liberation Sans, sans-serif" font-size="12" font-weight="normal" fill="#000" textLength="27.30" lengthAdjust="spacingAndGlyphs">06:10</text>
<text x="183.10" y="843" font-family="Liberation Sans, sans-serif" font-size="12" font-weight="normal" fill="#000" textLength="15.30" lengthAdjust="spacingAndGlyphs">8.3</text>
<text x="100.10" y="859" font-family="Liberation Sans, sans-serif" font-size="12" font-weight="normal" fill="#000" textLength="27.30" lengthAdjust="spacingAndGlyphs">15:15</text>
<text x="177.10" y="859" font-family="Liberation Sans, sans-serif" font-size="12" font-weight="normal" fill="#000" textLength="21.30" lengthAdjust="spacingAndGlyphs">18.7</text>
<text x="171.10" y="875" font-family="Liberation Sans, sans-serif" font-size="12" font-weight="normal" fill="#000" textLength="27.30" lengthAdjust="spacingAndGlyphs">13.12</text>
<text x="212.80" y="827" font-family="Liberation Sans, sans-serif" font-size="12" font-weight="bold" fill="#000" textLength="46.10" lengthAdjust="spacingAndGlyphs">Temp. I.</text>
<text x="303.20" y="827" font-family="Liberation Sans, sans-serif" font-size="12" font-weight="bold" fill="#000" textLength="13.40" lengthAdjust="spacingAndGlyphs">°C</text>
<text x="218.30" y="843" font-family="Liberation Sans, sans-serif" font-size="12" font-weight="normal" fill="#000" textLength="27.20" lengthAdjust="spacingAndGlyphs">15:05</text>
<text x="295.10" y="843" font-family="Liberation Sans, sans-serif" font-size="12" font-weight="normal" fill="#000" textLength="21.50" lengthAdjust="spacingAndGlyphs">23.2</text>
<text x="218.30" y="859" font-family="Liberation Sans, sans-serif" font-size="12" font-weight="normal" fill="#000" textLength="27.20" lengthAdjust="spacingAndGlyphs">09:25</text>
<text x="295.10" y="859" font-family="Liberation Sans, sans-serif" font-size="12" font-weight="normal" fill="#000" textLength="21.50" lengthAdjust="spacingAndGlyphs">26.2</text>
<text x="289.40" y="875" font-family="Liberation Sans, sans-serif" font-size="12" font-weight="normal" fill="#000" textLength="27.20" lengthAdjust="spacingAndGlyphs">24.23</text>
<text x="684.20" y="827" font-family="Liberation Sans, sans-serif" font-size="12" font-weight="bold" fill="#000" textLength="53.60" lengthAdjust="spacingAndGlyphs">Luftdruck</text>
<text x="766.70" y="827" font-family="Liberation Sans, sans-serif" font-size="12" font-weight="bold" fill="#000" textLength="21.50" lengthAdjust="spacingAndGlyphs">hPa</text>
<text x="690.30" y="843" font-family="Liberation Sans, sans-serif" font-size="12" font-weight="normal" fill="#000" textLength="27.20" lengthAdjust="spacingAndGlyphs">22:25</text>
<text x="755.30" y="843" font-family="Liberation Sans, sans-serif" font-size="12" font-weight="normal" fill="#000" textLength="32.90" lengthAdjust="spacingAndGlyphs">1024.7</text>
<text x="690.30" y="859" font-family="Liberation Sans, sans-serif" font-size="12" font-weight="normal" fill="#000" textLength="27.20" lengthAdjust="spacingAndGlyphs">08:05</text>
<text x="755.30" y="859" font-family="Liberation Sans, sans-serif" font-size="12" font-weight="normal" fill="#000" textLength="32.90" lengthAdjust="spacingAndGlyphs">1028.1</text>
<text x="684.20" y="875" font-family="Liberation Sans, sans-serif" font-size="12" font-weight="normal" fill="#000" textLength="51.60" lengthAdjust="spacingAndGlyphs">^0.8hPa/h</text>
<text x="755.30" y="875" font-family="Liberation Sans, sans-serif" font-size="12" font-weight="normal" fill="#000" textLength="32.90" lengthAdjust="spacingAndGlyphs">1026.5</text>
<text x="802.20" y="827" font-family="Liberation Sans, sans-serif" font-size="12" font-weight="bold" fill="#000" textLength="37.20" lengthAdjust="spacingAndGlyphs">Regen</text>
<text x="883.30" y="827" font-family="Liberation Sans, sans-serif" font-size="12" font-weight="bold" fill="#000" textLength="22.30" lengthAdjust="spacingAndGlyphs">l/m²</text>
<text x="808.30" y="859" font-family="Liberation Sans, sans-serif" font-size="12" font-weight="normal" fill="#000" textLength="27.20" lengthAdjust="spacingAndGlyphs">00:00</text>
<text x="891.40" y="859" font-family="Liberation Sans, sans-serif" font-size="12" font-weight="normal" fill="#000" textLength="15.20" lengthAdjust="spacingAndGlyphs">0.0</text>
<text x="802.20" y="875" font-family="Liberation Sans, sans-serif" font-size="12" font-weight="normal" fill="#000" textLength="38.40" lengthAdjust="spacingAndGlyphs">Gesamt:</text>
<text x="891.40" y="875" font-family="Liberation Sans, sans-serif" font-size="12" font-weight="normal" fill="#000" textLength="15.20" lengthAdjust="spacingAndGlyphs">0.0</text>
<text x="919.90" y="827" font-family="Liberation Sans, sans-serif" font-size="12" font-weight="bold" fill="#000" textLength="29.70" lengthAdjust="spacingAndGlyphs">Wind</text>
<text x="992.60" y="827" font-family="Liberation Sans, sans-serif" font-size="12" font-weight="bold" fill="#000" textLength="29.30" lengthAdjust="spacingAndGlyphs">km/h</text>
<text x="920.30" y="843" font-family="Liberation Sans, sans-serif" font-size="12" font-weight="normal" fill="#000" textLength="44.70" lengthAdjust="spacingAndGlyphs">Ø 10 min.</text>
<text x="1007.30" y="843" font-family="Liberation Sans, sans-serif" font-size="12" font-weight="normal" fill="#000" textLength="15.40" lengthAdjust="spacingAndGlyphs">4.9</text>
<text x="926.40" y="859" font-family="Liberation Sans, sans-serif" font-size="12" font-weight="normal" fill="#000" textLength="27.20" lengthAdjust="spacingAndGlyphs">20:05</text>
<text x="990.40" y="859" font-family="Liberation Sans, sans-serif" font-size="12" font-weight="normal" fill="#000" textLength="32.30" lengthAdjust="spacingAndGlyphs">N 10.9</text>
<text x="1007.30" y="875" font-family="Liberation Sans, sans-serif" font-size="12" font-weight="normal" fill="#000" textLength="15.40" lengthAdjust="spacingAndGlyphs">3.8</text>
</svg>
</body></html>
